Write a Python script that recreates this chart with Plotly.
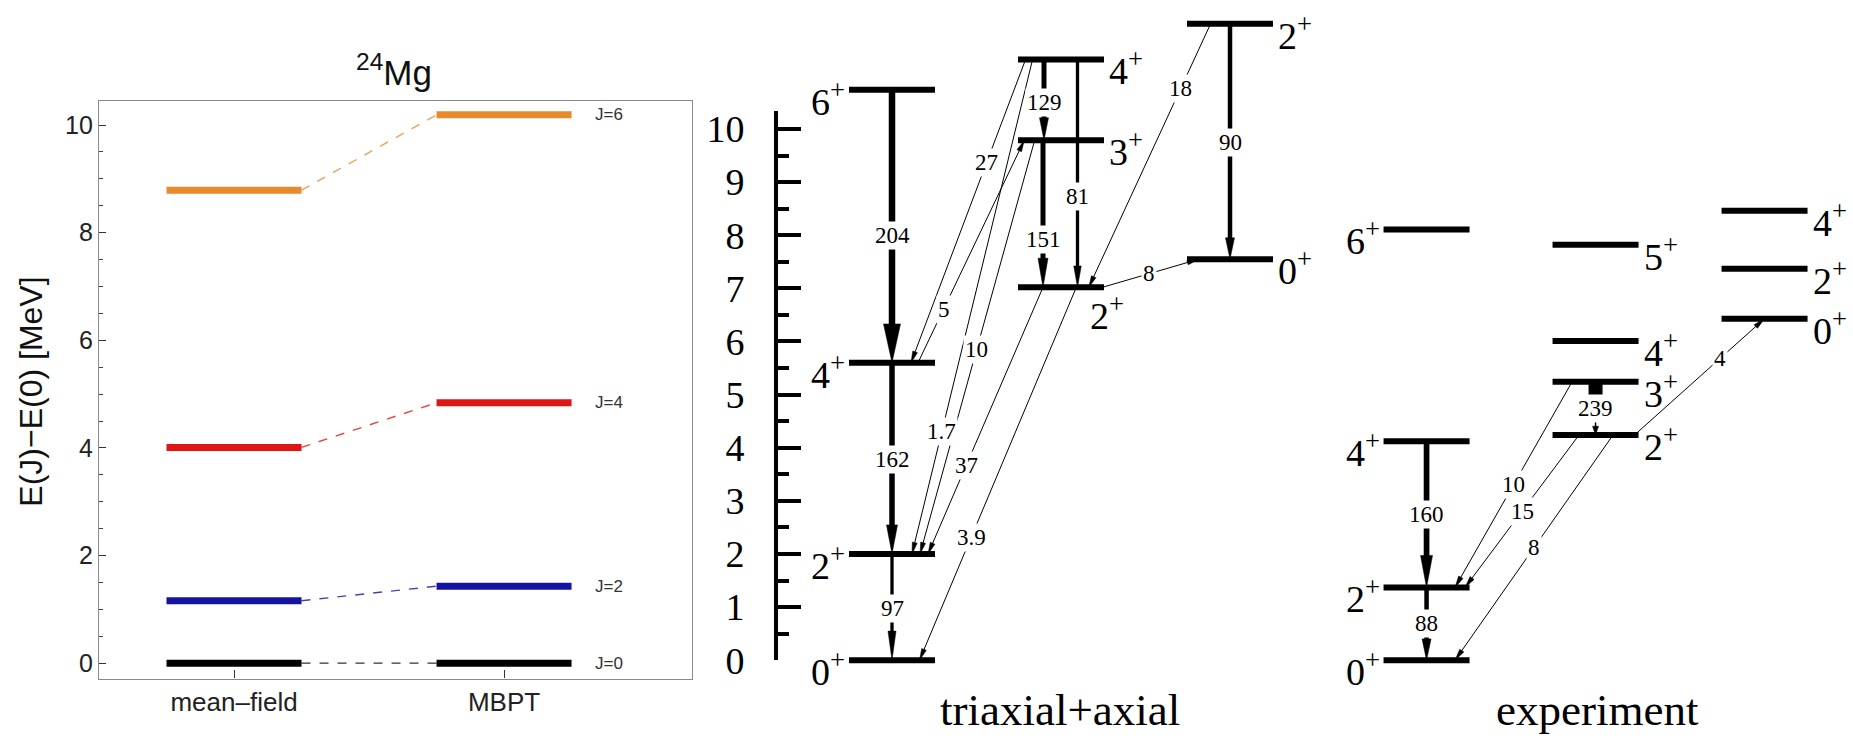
import math
import plotly.graph_objects as go

# ---------------- data ----------------
# left panel: 24Mg yrast energies
methods = ["mean–field", "MBPT"]
spin_labels = ["J=0", "J=2", "J=4", "J=6"]
E_mean_field = [0.0, 1.16, 4.01, 8.79]
E_mbpt = [0.0, 1.43, 4.84, 10.19]
spin_colors = ["#000000", "#1414a0", "#e01414", "#e8892c"]
left_yticks = [0, 2, 4, 6, 8, 10]

# right panel: triaxial+axial levels (column index, energy MeV, J)
tri_col = [0, 0, 0, 0, 1, 1, 1, 2, 2]
tri_E = [0.0, 2.00, 5.60, 10.74, 7.02, 9.79, 11.31, 7.55, 11.98]
tri_J = ["0", "2", "4", "6", "2", "3", "4", "0", "2"]
# transitions (level index from -> to) and B(E2) labels
tri_from = [3, 2, 1, 6, 5, 6, 8, 8, 4, 6, 2, 6, 5, 4, 4]
tri_to = [2, 1, 0, 5, 4, 4, 7, 4, 7, 2, 5, 1, 1, 1, 0]
tri_BE2 = ["204", "162", "97", "129", "151", "81", "90", "18", "8", "27", "5", "1.7", "10", "37", "3.9"]

# experiment levels
exp_col = [0, 0, 0, 0, 1, 1, 1, 1, 2, 2, 2]
exp_E = [0.0, 1.37, 4.12, 8.11, 4.24, 5.24, 6.01, 7.82, 6.43, 7.37, 8.46]
exp_J = ["0", "2", "4", "6", "2", "3", "4", "5", "0", "2", "4"]
exp_from = [2, 1, 5, 5, 4, 4, 4]
exp_to = [1, 0, 4, 1, 1, 0, 8]
exp_BE2 = ["160", "88", "239", "10", "15", "8", "4"]

right_yticks = list(range(0, 11))

# ---------------- layout / style constants ----------------
W, H = 1853, 751
SANS = "Liberation Sans, Arial, sans-serif"
SERIF = "Liberation Serif, Times New Roman, serif"

# left frame (px)
L_X0, L_X1, L_Y0, L_Y1 = 99, 692, 102, 698
# right panel pixel mapping
X0_PX, PX_PER_COL = 892, 169.0
Y0_PX, PX_PER_E = 679, 54.8
AX_X_PX, AX_TOP_PX = 776, 112
HW = 43 / PX_PER_COL          # half width of a level bar (column units)
EXP_OFFSET = 3.163            # column offset of the experiment block

# label placement of each level: L(eft), R(ight), B(elow)
tri_side = ["L", "L", "L", "L", "B", "R", "R", "R", "R"]
exp_side = ["L", "L", "L", "L", "R", "R", "R", "R", "R", "R", "R"]

# arrow styles (pixel offsets along the bars, widths, heads, label position)
tri_x0_off = [0, 0, 0, -17, -18, 16.5, 0, -19.4, 41.5, -35.4, 26, -28.4, -26.3, -18, 15.3]
tri_x1_off = [0, 0, 0, -17, -18, 16.5, 0, 27.8, -31, 19, -36.7, 20, 28, 36, 27.5]
tri_lw = [6.5, 5.5, 3.3, 5, 5, 3.3, 4.5, 1, 1, 1, 1, 1, 1, 1, 1]
tri_lw_after = tri_lw
tri_headL = [40, 30, 30, 23, 30, 22, 22, 12, 12, 12, 12, 12, 12, 12, 12]
tri_headW = [17, 11, 8, 9, 10, 7.5, 9, 5, 5, 5, 5, 5, 5, 5, 5]
tri_t = [0.533, 0.506, 0.51, 0.536, 0.675, 0.6, 0.504, 0.244, 0.48, 0.34, 0.24, 0.753, 0.505, 0.668, 0.67]

exp_x0_off = [0, 0, 0, -23.5, -16.5, 17.5, 39]
exp_x1_off = [0, 0, 0, 28.5, 38.5, 28.5, 0]
exp_lw = [5.7, 4.5, 14, 1, 1, 1, 1]
exp_lw_after = [5.7, 4.5, 1.5, 1, 1, 1, 1]
exp_headL = [33, 22, 9, 12, 12, 12, 12]
exp_headW = [12, 9, 6, 5, 5, 5, 5]
exp_t = [0.498, 0.5, 0.5, 0.499, 0.5, 0.5, 0.66]

fig = go.Figure()
annotations = []

# ---------------- left panel ----------------
for j in range(len(spin_labels)):
    c = spin_colors[j]
    fig.add_trace(go.Scatter(x=[0.75, 1.25, None, 1.75, 2.25],
                             y=[E_mean_field[j], E_mean_field[j], None, E_mbpt[j], E_mbpt[j]],
                             mode="lines", line=dict(color=c, width=7),
                             xaxis="x", yaxis="y", hoverinfo="skip", showlegend=False))
    fig.add_trace(go.Scatter(x=[1.25, 1.75], y=[E_mean_field[j], E_mbpt[j]],
                             mode="lines", line=dict(color=c, width=1.4, dash="dash"),
                             opacity=0.8, xaxis="x", yaxis="y", hoverinfo="skip", showlegend=False))
    annotations.append(dict(x=2.39, y=E_mbpt[j], xref="x", yref="y", text=spin_labels[j],
                            xanchor="center", yanchor="middle",
                            showarrow=False, font=dict(family=SANS, size=17, color="#333333")))

annotations.append(dict(x=394 / W, y=1 - 70 / H, xref="paper", yref="paper",
                        xanchor="center", yanchor="middle",
                        text="<sup>24</sup>Mg", showarrow=False,
                        font=dict(family=SANS, size=35, color="#111111")))
annotations.append(dict(x=31 / W, y=1 - 402 / H, xref="paper", yref="paper",
                        xanchor="center", yanchor="middle",
                        text="E(J)−E(0) [MeV]", textangle=-90, showarrow=False,
                        font=dict(family=SANS, size=32, color="#111111")))

# ---------------- right panel ----------------
def add_levels(cols, Es, Js, sides, offset):
    xs, ys = [], []
    for c, e in zip(cols, Es):
        xc = c + offset
        xs += [xc - HW, xc + HW, None]
        ys += [e, e, None]
    fig.add_trace(go.Scatter(x=xs, y=ys, mode="lines", line=dict(color="black", width=6),
                             xaxis="x2", yaxis="y2", hoverinfo="skip", showlegend=False))
    for c, e, j, s in zip(cols, Es, Js, sides):
        xc = c + offset
        txt = f"{j}<sup>+</sup>"
        a = dict(y=e, xref="x2", yref="y2", text=txt, showarrow=False,
                 font=dict(family=SERIF, size=38, color="black"))
        if s == "L":
            a.update(x=xc - HW, xanchor="right", xshift=-2, yanchor="middle", yshift=-9)
        elif s == "R":
            a.update(x=xc + HW, xanchor="left", xshift=3, yanchor="middle", yshift=-9)
        else:
            a.update(x=xc + HW, xanchor="left", xshift=-16, yanchor="top", yshift=0)
        annotations.append(a)


def add_arrow(x0, y0, x1, y1, lw, lw_after, hL, hW, t, label):
    dxp = (x1 - x0) * PX_PER_COL
    dyp = (y1 - y0) * PX_PER_E
    L = math.hypot(dxp, dyp)
    ux, uy = dxp / L, dyp / L
    nx, ny = -uy, ux
    bx = x1 - ux * hL / PX_PER_COL
    by = y1 - uy * hL / PX_PER_E
    ex = bx + ux * 3 / PX_PER_COL
    ey = by + uy * 3 / PX_PER_E
    lx = x0 + t * (x1 - x0)
    ly = y0 + t * (y1 - y0)
    fig.add_trace(go.Scatter(x=[x0, lx], y=[y0, ly], mode="lines",
                             line=dict(color="black", width=lw),
                             xaxis="x2", yaxis="y2", hoverinfo="skip", showlegend=False))
    fig.add_trace(go.Scatter(x=[lx, ex], y=[ly, ey], mode="lines",
                             line=dict(color="black", width=lw_after),
                             xaxis="x2", yaxis="y2", hoverinfo="skip", showlegend=False))
    fig.add_trace(go.Scatter(
        x=[x1, bx + nx * hW / 2 / PX_PER_COL, bx - nx * hW / 2 / PX_PER_COL, x1],
        y=[y1, by + ny * hW / 2 / PX_PER_E, by - ny * hW / 2 / PX_PER_E, y1],
        mode="lines", fill="toself", fillcolor="black", line=dict(color="black", width=0.5),
        xaxis="x2", yaxis="y2", hoverinfo="skip", showlegend=False))
    annotations.append(dict(x=lx, y=ly, xref="x2", yref="y2", text=label, showarrow=False,
                            xanchor="center", yanchor="middle",
                            bgcolor="white", borderpad=1,
                            font=dict(family=SERIF, size=23, color="black")))


def add_transitions(cols, Es, frm, to, labels, offset, x0o, x1o, lws, lwa, hLs, hWs, ts):
    for k in range(len(frm)):
        a, b = frm[k], to[k]
        x0 = cols[a] + offset + x0o[k] / PX_PER_COL
        x1 = cols[b] + offset + x1o[k] / PX_PER_COL
        add_arrow(x0, Es[a], x1, Es[b], lws[k], lwa[k], hLs[k], hWs[k], ts[k], labels[k])


add_levels(tri_col, tri_E, tri_J, tri_side, 0.0)
add_levels(exp_col, exp_E, exp_J, exp_side, EXP_OFFSET)
add_transitions(tri_col, tri_E, tri_from, tri_to, tri_BE2, 0.0,
                tri_x0_off, tri_x1_off, tri_lw, tri_lw_after, tri_headL, tri_headW, tri_t)
add_transitions(exp_col, exp_E, exp_from, exp_to, exp_BE2, EXP_OFFSET,
                exp_x0_off, exp_x1_off, exp_lw, exp_lw_after, exp_headL, exp_headW, exp_t)

annotations.append(dict(x=1060 / W, y=1 - 730 / H, xref="paper", yref="paper",
                        xanchor="center", yanchor="middle",
                        text="triaxial+axial", showarrow=False,
                        font=dict(family=SERIF, size=45, color="black")))
annotations.append(dict(x=1597 / W, y=1 - 730 / H, xref="paper", yref="paper",
                        xanchor="center", yanchor="middle",
                        text="experiment", showarrow=False,
                        font=dict(family=SERIF, size=45, color="black")))

# dummy trace to realise the energy axis of the right panel
fig.add_trace(go.Scatter(x=[0], y=[0], xaxis="x2", yaxis="y3", mode="markers",
                         marker=dict(opacity=0), hoverinfo="skip", showlegend=False))

fig.update_layout(
    width=W, height=H, margin=dict(l=0, r=0, t=0, b=0),
    paper_bgcolor="white", plot_bgcolor="rgba(0,0,0,0)", showlegend=False,
    xaxis=dict(domain=[L_X0 / W, L_X1 / W], range=[0.5, 2.696], anchor="y",
               tickmode="array", tickvals=[1, 2], ticktext=methods,
               ticks="inside", ticklen=8, tickwidth=1.3, tickcolor="#333333",
               showline=True, mirror=True, linecolor="#8a8a8a", linewidth=1.3,
               showgrid=False, zeroline=False,
               tickfont=dict(family=SANS, size=26, color="#222222")),
    yaxis=dict(domain=[1 - L_Y1 / H, 1 - L_Y0 / H], range=[-0.288, 10.45], anchor="x",
               tickmode="array", tickvals=left_yticks,
               ticks="inside", ticklen=7, tickwidth=1.3, tickcolor="#333333",
               minor=dict(ticks="inside", ticklen=4, tickwidth=1, tickcolor="#444444",
                          tickmode="linear", tick0=0, dtick=0.5, showgrid=False),
               showline=True, mirror=True, linecolor="#8a8a8a", linewidth=1.3,
               showgrid=False, zeroline=False,
               tickfont=dict(family=SANS, size=25, color="#222222")),
    xaxis2=dict(domain=[0, 1], range=[-X0_PX / PX_PER_COL, (W - X0_PX) / PX_PER_COL],
                anchor="y2", visible=False),
    yaxis2=dict(domain=[0, 1], range=[(Y0_PX - H) / PX_PER_E, Y0_PX / PX_PER_E],
                anchor="x2", visible=False),
    yaxis3=dict(domain=[1 - Y0_PX / H, 1 - AX_TOP_PX / H],
                range=[0, (Y0_PX - AX_TOP_PX) / PX_PER_E],
                anchor="free", position=AX_X_PX / W,
                tickmode="array", tickvals=right_yticks,
                ticks="inside", ticklen=23, tickwidth=4, tickcolor="black",
                minor=dict(ticks="inside", ticklen=11, tickwidth=4, tickcolor="black",
                           tickmode="linear", tick0=0, dtick=0.5, showgrid=False),
                showline=True, linecolor="black", linewidth=4,
                showgrid=False, zeroline=False, ticklabelstandoff=22,
                tickfont=dict(family=SERIF, size=38, color="black")),
    annotations=annotations,
)

fig.write_html("out.html")
